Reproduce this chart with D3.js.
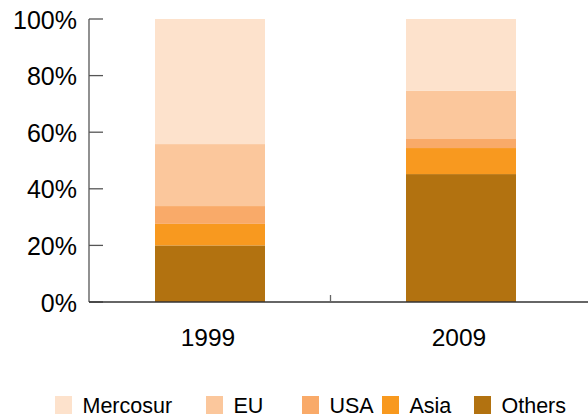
<!DOCTYPE html>
<html><head><meta charset="utf-8">
<script src="https://cdn.jsdelivr.net/npm/d3@7"></script>
<style>
html,body{margin:0;padding:0;background:#fff;}
text{font-family:"Liberation Sans",Arial,Helvetica,sans-serif;fill:#000;}
</style></head>
<body><svg id="c" width="588" height="417"></svg>
<script>
const years = ["1999", "2009"];
const series = ["Mercosur", "EU", "USA", "Asia", "Others"];
const others = [20.0, 45.2];
const asia = [7.6, 9.2];
const usa = [6.3, 3.2];
const eu = [21.9, 17.0];
const mercosur = [44.2, 25.4];
const yTicks = [0, 20, 40, 60, 80, 100];
const colors = ["#FDE2CC", "#FBC79C", "#F9AA69", "#F8991F", "#B27210"];

(function () {
const svg = d3.select("#c");
const mLeft = 89, mTop = 19, mBottom = 302, mRight = 588;

const y = d3.scaleLinear().domain([0, 100]).range([mBottom, mTop]);
const x = d3.scaleBand().domain(years).range([84.5, 586.5])
  .paddingInner(141 / 251).paddingOuter(0.2809);

const rows = years.map((yr, i) => ({
  year: yr, Others: others[i], Asia: asia[i], USA: usa[i], EU: eu[i], Mercosur: mercosur[i]
}));
const stackOrder = ["Others", "Asia", "USA", "EU", "Mercosur"];
const stacked = d3.stack().keys(stackOrder)(rows);
const color = d3.scaleOrdinal().domain(series).range(colors);

svg.append("g").selectAll("g").data(stacked).join("g")
  .attr("fill", d => color(d.key))
  .selectAll("rect").data(d => d).join("rect")
  .attr("x", d => x(d.data.year))
  .attr("width", x.bandwidth())
  .attr("y", d => y(d[1]))
  .attr("height", d => y(d[0]) - y(d[1]));

// y axis
const ya = svg.append("g");
ya.append("line").attr("x1", mLeft).attr("x2", mLeft).attr("y1", mTop).attr("y2", mBottom)
  .attr("stroke", "#555").attr("stroke-width", 1.3);
ya.selectAll("line.t").data(yTicks).join("line").attr("class", "t")
  .attr("x1", mLeft).attr("x2", mLeft + 14)
  .attr("y1", d => y(d)).attr("y2", d => y(d))
  .attr("stroke", "#555").attr("stroke-width", 1.3);
ya.selectAll("text").data(yTicks).join("text")
  .attr("x", 77).attr("y", d => y(d)).attr("dy", "0.38em")
  .attr("text-anchor", "end").attr("font-size", 25)
  .text(d => d + "%");

// x axis
svg.append("line").attr("x1", mLeft).attr("x2", mRight).attr("y1", mBottom).attr("y2", mBottom)
  .attr("stroke", "#333").attr("stroke-width", 1.6);
const mid = (x(years[0]) + x.bandwidth() + x(years[1])) / 2 - 5;
svg.append("line").attr("x1", mid).attr("x2", mid).attr("y1", mBottom - 7).attr("y2", mBottom)
  .attr("stroke", "#666").attr("stroke-width", 1.3);
svg.append("g").selectAll("text").data(years).join("text")
  .attr("x", d => x(d) + x.bandwidth() / 2 - 2).attr("y", 346)
  .attr("text-anchor", "middle").attr("font-size", 24.5)
  .text(d => d);

// legend
const legX = [55, 206, 302, 382, 474];
const lg = svg.append("g").selectAll("g").data(series).join("g")
  .attr("transform", (d, i) => `translate(${legX[i]},396)`);
lg.append("rect").attr("width", 17).attr("height", 18).attr("fill", d => color(d));
lg.append("text").attr("x", 27.5).attr("y", 17).attr("font-size", 21.5).text(d => d);
})();
</script></body></html>
